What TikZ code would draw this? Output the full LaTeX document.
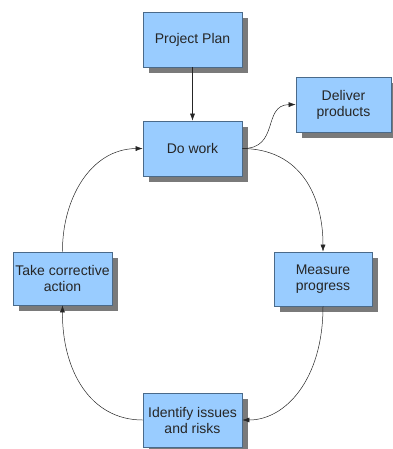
\documentclass[tikz,border=0pt]{standalone}
\usepackage{fontspec}
\setmainfont{Liberation Sans}
\usetikzlibrary{shadows,arrows.meta}
\definecolor{boxfill}{HTML}{99CCFF}
\definecolor{boxline}{HTML}{4A6A8A}
\definecolor{shade}{HTML}{7A7A7A}
\begin{document}
\begin{tikzpicture}[x=1pt,y=-1pt,
  box/.style={draw=boxline, line width=0.7pt, fill=boxfill, minimum width=99pt, minimum height=55pt,
    align=center, inner sep=1pt, font=\fontsize{14pt}{16pt}\selectfont, text=black!85,
    drop shadow={shadow xshift=6pt, shadow yshift=-6pt, fill=shade, opacity=1}},
  conn/.style={draw=black!85, line width=0.5pt, -{Latex[length=7pt,width=5pt]}}]
\useasboundingbox (0,0) rectangle (392,449);
\node[box] (pp) at (192.5,39.5) {Project Plan};
\node[box] (dw) at (192.5,148.5) {Do work};
\node[box, minimum width=95pt] (dp) at (343.5,104.5) {Deliver\\products};
\node[box, minimum height=53pt] (tc) at (62.5,278.5) {Take corrective\\action};
\node[box, minimum width=98pt, minimum height=54pt] (mp) at (323,279) {Measure\\progress};
\node[box, minimum height=54pt] (ii) at (192.5,420) {Identify issues\\and risks};
\draw[conn] (pp) -- (dw);
\draw[conn] (dw.east) .. controls (280,149) and (262,105) .. (dp.west);
\draw[conn] (dw.east) .. controls (300,149) and (323,195) .. (mp.north);
\draw[conn] (mp.south) .. controls (323,380) and (285,420) .. (ii.east);
\draw[conn] (ii.west) .. controls (90,420) and (62,370) .. (tc.south);
\draw[conn] (tc.north) .. controls (62,200) and (90,149) .. (dw.west);
\end{tikzpicture}
\end{document}
